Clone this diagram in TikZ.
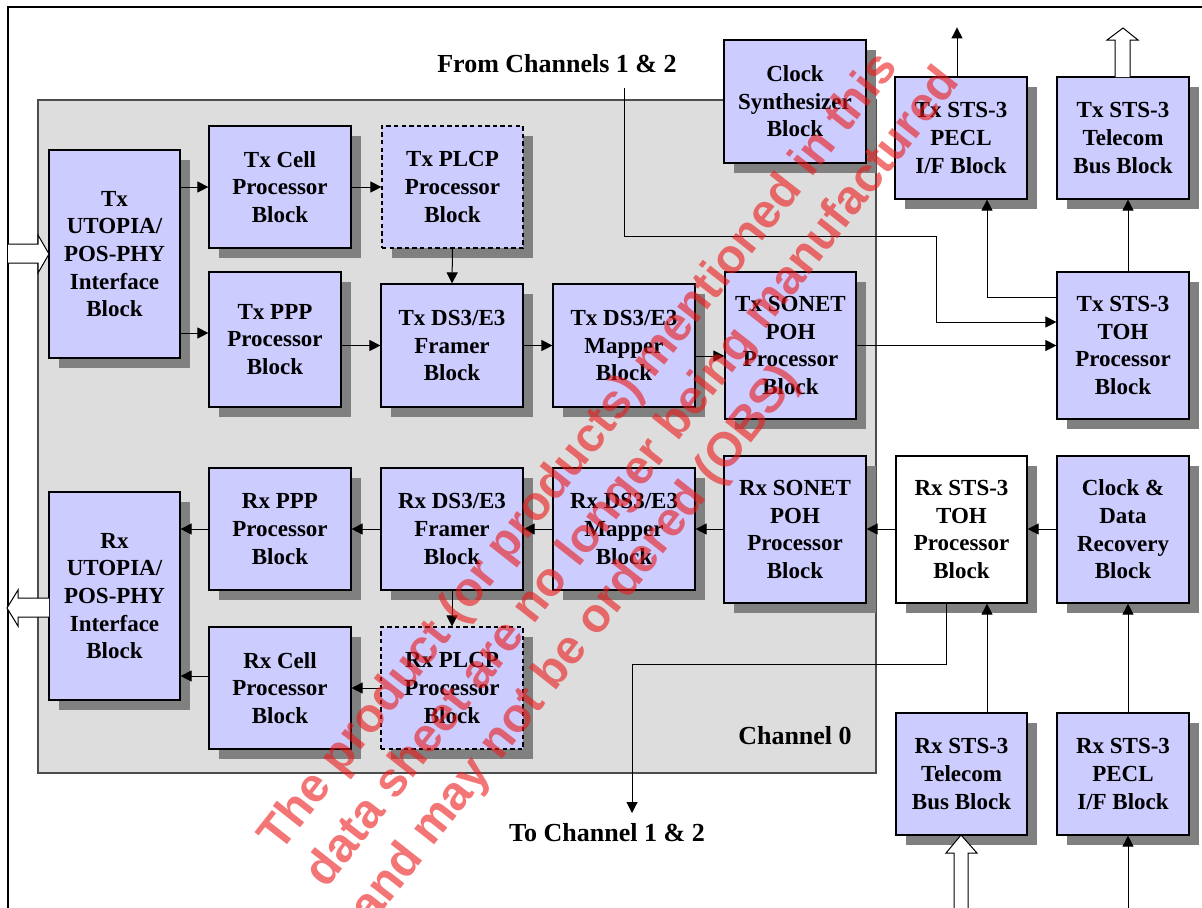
\documentclass[tikz,border=0pt]{standalone}
\usepackage{fontspec}
\setmainfont{Liberation Serif}
\newfontfamily\wmfont{Liberation Sans}
\usetikzlibrary{arrows.meta,calc,shadows}

\definecolor{blkblue}{RGB}{204,204,255}
\definecolor{shadegray}{RGB}{128,128,128}
\definecolor{changray}{RGB}{221,221,221}
\definecolor{wmred}{RGB}{235,25,25}

\begin{document}
\begin{tikzpicture}[x=0.5pt,y=-0.5pt,>={Triangle[length=5.5pt,width=5.5pt]},
  blk/.style={draw,line width=0.6pt,fill=blkblue,align=center,inner sep=0pt,
    font=\bfseries\fontsize{11.5}{13.8}\selectfont,
    drop shadow={shadow xshift=5pt,shadow yshift=-5pt,fill=shadegray,opacity=1}},
  sz/.style 2 args={minimum width=#1pt,minimum height=#2pt},
  plcp/.style={dash pattern=on 2.2pt off 1.6pt},
  conn/.style={line width=0.5pt},
  lbl/.style={font=\bfseries\fontsize{13}{15}\selectfont}]
  \clip (0,0) rectangle (1202,907);

  % frame and channel 0 area
  \draw[line width=1.3pt] (8,7) rectangle (1230,930);
  \draw[fill=changray,draw=black!70,line width=0.7pt] (38,100) rectangle (876,773);

  % transmit side
  \node[blk,sz={65.5}{104}] (txutopia) at (114.5,254) {Tx\\UTOPIA/\\POS-PHY\\Interface\\Block};
  \node[blk,sz={71}{61}] (txcell) at (280,187) {Tx Cell\\Processor\\Block};
  \node[blk,plcp,sz={70.5}{61}] (txplcp) at (452.5,187) {Tx PLCP\\Processor\\Block};
  \node[blk,sz={66}{67.5}] (txppp) at (275,339.5) {Tx PPP\\Processor\\Block};
  \node[blk,sz={71}{61.5}] (txframer) at (452,345.5) {Tx DS3/E3\\Framer\\Block};
  \node[blk,sz={71}{61.5}] (txmapper) at (624,345.5) {Tx DS3/E3\\Mapper\\Block};
  \node[blk,sz={65.5}{73.5}] (txsonet) at (790.5,345.5) {Tx SONET\\POH\\Processor\\Block};
  \node[blk,sz={71}{61.5}] (clksyn) at (795,101.5) {Clock\\Synthesizer\\Block};
  \node[blk,sz={66}{61}] (txpecl) at (961,138) {Tx STS-3\\PECL\\I/F Block};
  \node[blk,sz={66}{61}] (txtelecom) at (1123,138) {Tx STS-3\\Telecom\\Bus Block};
  \node[blk,sz={66}{73.5}] (txtoh) at (1123,345.5) {Tx STS-3\\TOH\\Processor\\Block};

  % receive side
  \node[blk,sz={65.5}{104}] (rxutopia) at (114.5,596) {Rx\\UTOPIA/\\POS-PHY\\Interface\\Block};
  \node[blk,sz={71}{61}] (rxppp) at (280,529) {Rx PPP\\Processor\\Block};
  \node[blk,sz={71}{61}] (rxframer) at (452,529) {Rx DS3/E3\\Framer\\Block};
  \node[blk,sz={71}{61}] (rxmapper) at (624,529) {Rx DS3/E3\\Mapper\\Block};
  \node[blk,sz={71}{73.5}] (rxsonet) at (795,529.5) {Rx SONET\\POH\\Processor\\Block};
  \node[blk,fill=white,sz={65.5}{73.5}] (rxtoh) at (961.5,529.5) {Rx STS-3\\TOH\\Processor\\Block};
  \node[blk,sz={66}{73.5}] (cdr) at (1123,529.5) {Clock \&\\Data\\Recovery\\Block};
  \node[blk,sz={71}{61}] (rxcell) at (280,688) {Rx Cell\\Processor\\Block};
  \node[blk,plcp,sz={71}{61}] (rxplcp) at (452,688) {Rx PLCP\\Processor\\Block};
  \node[blk,sz={65.5}{61}] (rxtelecom) at (961.5,774) {Rx STS-3\\Telecom\\Bus Block};
  \node[blk,sz={66}{61}] (rxpecl) at (1123,774) {Rx STS-3\\PECL\\I/F Block};

  \node[lbl] (fromch) at (557,64) {From Channels 1 \& 2};
  \node[lbl] (toch) at (607,833) {To Channel 1 \& 2};
  \node[lbl] (chan0) at (795,736) {Channel 0};

  \coordinate (fromtap) at (624,88);
  \coordinate (totap) at (632,813);
  \coordinate (rxcellout) at ($(rxcell.west)+(0,-12)$);

  % tx connectors
  \draw[conn,->] (txutopia.east |- txcell) -- (txcell.west);
  \draw[conn,->] (txcell.east) -- (txplcp.west);
  \draw[conn,->] ($(txutopia.east)+(0,79)$) -- ($(txppp.west)+(0,-6.5)$);
  \draw[conn,->] (txppp.east |- txframer) -- (txframer.west);
  \draw[conn,->] (txplcp.south) -- (txframer.north);
  \draw[conn,->] (txframer.east) -- (txmapper.west);
  \draw[conn,->] ($(txmapper.east)+(0,10.5)$) -- ($(txsonet.west)+(0,10.5)$);
  \draw[conn,->] (txsonet.east) -- (txtoh.west);
  \draw[conn,->] (fromtap) |- (936,236) |- ($(txtoh.west)+(0,-23.5)$);
  \draw[conn,->] ($(txtoh.west)+(0,-48.5)$) -| ($(txpecl.south)+(26,0)$);
  \draw[conn,->] ($(txtoh.north)+(5,0)$) -- ($(txtelecom.south)+(5,0)$);
  \draw[conn,->] ($(txpecl.north)+(-4,0)$) -- ++(0,-49);

  % rx connectors
  \draw[conn,->] (rxppp.west) -- (rxutopia.east |- rxppp);
  \draw[conn,->] (rxframer.west) -- (rxppp.east);
  \draw[conn,->] (rxmapper.west) -- (rxframer.east);
  \draw[conn,->] (rxsonet.west |- rxmapper) -- (rxmapper.east);
  \draw[conn,->] (rxtoh.west |- rxmapper) -- (rxsonet.east |- rxmapper);
  \draw[conn,->] (cdr.west |- rxmapper) -- (rxtoh.east |- rxmapper);
  \draw[conn,->] (rxframer.south) -- (rxplcp.north);
  \draw[conn,->] (rxplcp.west) -- (rxcell.east);
  \draw[conn,->] (rxcellout) -- (rxutopia.east |- rxcellout);
  \draw[conn,->] ($(rxtelecom.north)+(25.5,0)$) -- ($(rxtoh.south)+(25.5,0)$);
  \draw[conn,->] ($(rxpecl.north)+(5,0)$) -- ($(cdr.south)+(5,0)$);
  \draw[conn,->] (1128,920) -- ($(rxpecl.south)+(5,0)$);
  \draw[conn,->] ($(rxtoh.south)+(-15.5,0)$) |- (632,664) -- (totap);

  % hollow bus arrows
  \draw[conn,fill=white] (8,244) -- (38,244) -- (38,235) -- (49,254) -- (38,273) -- (38,263) -- (8,263);
  \draw[conn,fill=white] (49,598) -- (18,598) -- (18,590) -- (7,608) -- (18,626) -- (18,617) -- (49,617);
  \draw[conn,fill=white] (1115,77) -- (1115,40) -- (1107,40) -- (1123,28) -- (1138,40) -- (1130,40) -- (1130,77);
  \draw[conn,fill=white] (954,920) -- (954,853) -- (946,853) -- (961,835) -- (977,853) -- (968,853) -- (968,920);

  % watermark
  \node[rotate=51.8,anchor=west,inner sep=0pt,align=left,text=wmred,opacity=0.6,
    font=\wmfont\bfseries\fontsize{24}{29}\selectfont] (wmark) at (316,882)
    {The product (or products) mentioned in this\\data sheet are no longer being manufactured\\and may not be ordered (OBS)};
\end{tikzpicture}
\end{document}
